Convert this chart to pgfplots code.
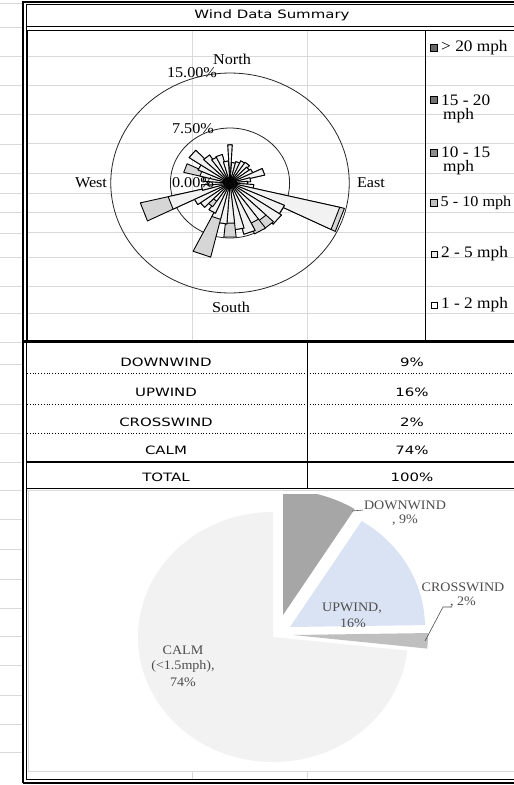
\documentclass[border=0pt]{standalone}
\usepackage{pgfplots}
\pgfplotsset{compat=1.18}
\usepackage{pgfplotstable}
\usepackage{fontspec}
\setmainfont{Liberation Serif}
\newfontfamily\msfont[FakeStretch=1.3]{DejaVu Sans}
\newfontfamily\tnr[FakeStretch=1.08]{Liberation Serif}
\definecolor{sheetgrid}{HTML}{D9D9D9}
\definecolor{rlight}{HTML}{F2F2F2}
\definecolor{rdark}{HTML}{D6D6D6}
\definecolor{pcalm}{HTML}{F2F2F2}
\definecolor{pdown}{HTML}{A6A6A6}
\definecolor{pup}{HTML}{DAE3F3}
\definecolor{pcross}{HTML}{BFBFBF}
\definecolor{plbl}{HTML}{4D4D4D}

% wind rose: bearing, end of 2-5 mph part, end of 5-10 mph part (percent), half width (deg)
\pgfplotstableread{
b l t w
0 5.2 5.2 3
10 2.8 2.8 6
20 3.0 3.0 6
30 3.3 3.3 6
40 3.4 3.4 6
50 3.0 3.0 6
60 3.2 3.2 6
70 4.5 4.5 6
80 2.6 2.6 6
90 2.2 2.2 6
100 3.0 3.0 6
110 14.2 14.8 6.5
120 7.5 7.5 6
130 7.8 7.8 6
140 6.3 7.6 6
150 6.1 7.6 6
160 7.2 7.2 6
170 6.4 6.4 6
180 5.5 7.4 6
190 5.6 5.6 6
200 5.1 10.4 6.5
210 4.5 4.5 6
220 3.0 3.9 6
230 4.6 4.6 6
240 5.0 5.0 6
250 8.0 11.6 6.5
260 3.6 3.6 6
270 2.8 2.8 6
280 3.4 3.4 6
290 3.9 6.0 6
300 4.4 4.4 6
310 6.2 6.2 6
320 4.6 4.6 6
330 3.9 3.9 6
340 4.0 4.0 6
350 3.0 3.0 6
}\rosedata

% pie: value, colour, explode offset (pt)
\pgfplotstableread{
v c ox oy
9 pdown 10 22
16 pup 17 10
2 pcross 20 2
74 pcalm 0 0
}\piedata

\newcommand\lbl{\tnr\fontsize{15}{17}\selectfont}
\newcommand\lgd{\tnr\fontsize{16}{18}\selectfont}
\newcommand\plb{\tnr\fontsize{13}{15}\selectfont\color{plbl}}
\newcommand\msf{\msfont\fontsize{11.5}{13}\selectfont}

\begin{document}
\begin{tikzpicture}[x=1pt,y=-1pt]
\useasboundingbox (0,0) rectangle (514,785);
\fill[white] (0,0) rectangle (514,785);
% sheet grid, left strip
\foreach \yy in {3,27,56,85,114,144,173,193,212,233,257,286,313,342,364,404,433,462,490,519,549,579,608,636,665,695,724,752}
  \draw[sheetgrid, line width=0.9pt] (0,\yy) -- (22,\yy);
% sheet grid, inside chart area
\foreach \yy in {56,85,114,143,173,193,212,232,257,286,313}
  \draw[sheetgrid, line width=0.9pt] (27,\yy) -- (514,\yy);
\foreach \xx in {192,307}{
  \draw[sheetgrid, line width=0.9pt] (\xx,30) -- (\xx,340);
  \draw[sheetgrid, line width=0.9pt] (\xx,771) -- (\xx,779);
}
% pie chart area border
\draw[sheetgrid, line width=0.8pt] (26.5,490.5) -- (514,490.5);
\draw[sheetgrid, line width=0.8pt] (28,490) -- (28,771) -- (514,771);

% ---------- wind rose ----------
\begin{axis}[at={(230pt,-183pt)}, anchor=origin, hide axis, scale only axis,
  width=254.4pt, height=234.6pt, xmin=-16, xmax=16, ymin=-16, ymax=16, clip=false]
\draw[black!85, line width=0.8pt] (axis cs:0,0) ellipse [x radius=15, y radius=15];
\draw[black!85, line width=0.8pt] (axis cs:0,0) ellipse [x radius=7.5, y radius=7.5];
\pgfplotsforeachungrouped \i in {0,...,35}{%
  \pgfplotstablegetelem{\i}{b}\of\rosedata \let\rb\pgfplotsretval
  \pgfplotstablegetelem{\i}{l}\of\rosedata \let\rlo\pgfplotsretval
  \pgfplotstablegetelem{\i}{t}\of\rosedata \let\rt\pgfplotsretval
  \pgfplotstablegetelem{\i}{w}\of\rosedata \let\rw\pgfplotsretval
  \pgfmathsetmacro\aA{90-\rb+\rw}%
  \pgfmathsetmacro\aB{90-\rb-\rw}%
  \edef\temp{\noexpand\addplot[draw=black, line width=0.9pt, line join=round, fill=rdark, data cs=polar] coordinates {(\aA,0) (\aA,\rt) (\aB,\rt) (\aB,0)} -- cycle;
  \noexpand\addplot[draw=black, line width=0.9pt, line join=round, fill=rlight, data cs=polar] coordinates {(\aA,0) (\aA,\rlo) (\aB,\rlo) (\aB,0)} -- cycle;}%
  \temp
}
\end{axis}

\node[inner sep=0] at (232,59) {\lbl North};
\node[inner sep=0] at (192,73) {\lbl 15.00\%};
\node[inner sep=0] at (193,129) {\lbl 7.50\%};
\node[inner sep=0] at (193,183) {\lbl 0.00\%};
\node[inner sep=0] at (91,183) {\lbl West};
\node[inner sep=0] at (371,183) {\lbl East};
\node[inner sep=0] at (231,307) {\lbl South};

% legend
\begin{scope}[line width=0.7pt]
\draw[fill=black!60] (430.5,44.5) rectangle (437.5,51.5);
\draw[fill=black!55] (430.5,96.5) rectangle (437.5,103.5);
\draw[fill=black!45] (430.5,149.5) rectangle (437.5,156.5);
\draw[fill=black!25] (430.5,199.5) rectangle (437.5,206.5);
\draw[fill=black!8] (431,251) rectangle (437,257);
\draw[fill=white] (431,302) rectangle (437,308);
\end{scope}
\node[inner sep=0, anchor=west] at (441,48) {\lgd > 20 mph};
\node[inner sep=0, anchor=west] at (441,100) {\lgd 15 - 20};
\node[inner sep=0, anchor=west] at (443,116) {\lgd mph};
\node[inner sep=0, anchor=west] at (441,152) {\lgd 10 - 15};
\node[inner sep=0, anchor=west] at (443,168) {\lgd mph};
\node[inner sep=0, anchor=west] at (440.5,203) {\tnr\fontsize{15}{17}\selectfont 5 - 10 mph};
\node[inner sep=0, anchor=west] at (441,254) {\lgd 2 - 5 mph};
\node[inner sep=0, anchor=west] at (441,305) {\lgd 1 - 2 mph};

% ---------- pie ----------
\begin{scope}
\clip (28,494) rectangle (514,770);
\begin{axis}[at={(273pt,-637pt)}, anchor=origin, hide axis, scale only axis,
  width=100pt, height=100pt, xmin=-1, xmax=1, ymin=-1, ymax=1, clip=false]
\xdef\cum{0}
\pgfplotsforeachungrouped \i in {0,...,3}{%
  \pgfplotstablegetelem{\i}{v}\of\piedata \let\pv\pgfplotsretval
  \pgfplotstablegetelem{\i}{c}\of\piedata \let\pc\pgfplotsretval
  \pgfplotstablegetelem{\i}{ox}\of\piedata \let\pox\pgfplotsretval
  \pgfplotstablegetelem{\i}{oy}\of\piedata \let\poy\pgfplotsretval
  \pgfmathsetmacro\aS{90-\cum/101*360}%
  \pgfmathsetmacro\aE{90-(\cum+\pv)/101*360}%
  \pgfmathsetmacro\newcum{\cum+\pv}\xdef\cum{\newcum}%
  \edef\temp{\noexpand\fill[\pc] ([shift={(\pox pt,\poy pt)}]axis cs:0,0) -- ++(\aS:135pt and 125pt) arc[start angle=\aS, end angle=\aE, x radius=135pt, y radius=125pt] -- cycle;}%
  \temp
}
\end{axis}
\end{scope}
% pie labels
\node[inner sep=0, align=center] at (405,505) {\plb DOWNWIND};
\node[inner sep=0] at (405,520) {\plb , 9\%};
\node[inner sep=0] at (352,608) {\plb UPWIND,};
\node[inner sep=0] at (353,623) {\plb 16\%};
\node[inner sep=0] at (463,587) {\plb CROSSWIND};
\node[inner sep=0] at (463,602) {\plb , 2\%};
\node[inner sep=0] at (183,650) {\plb CALM};
\node[inner sep=0] at (183,666) {\plb (<1.5mph),};
\node[inner sep=0] at (183,682) {\plb 74\%};
\draw[plbl, line width=0.6pt] (352,511) -- (363,510);
\draw[plbl, line width=0.6pt] (425,641) -- (443,607) -- (452,607);

% ---------- table ----------
\node[inner sep=0] at (272,15) {\msf Wind Data Summary};
\node[inner sep=0] at (166,362) {\msf DOWNWIND};
\node[inner sep=0] at (166,392) {\msf UPWIND};
\node[inner sep=0] at (166,422) {\msf CROSSWIND};
\node[inner sep=0] at (166,450) {\msf CALM};
\node[inner sep=0] at (166,477) {\msf TOTAL};
\node[inner sep=0] at (412,362) {\msf 9\%};
\node[inner sep=0] at (412,392) {\msf 16\%};
\node[inner sep=0] at (412,422) {\msf 2\%};
\node[inner sep=0] at (412,450) {\msf 74\%};
\node[inner sep=0] at (412,477) {\msf 100\%};

\draw[black, line width=0.8pt, dotted] (27,373) -- (514,373);
\draw[black, line width=0.8pt, dotted] (27,404) -- (514,404);
\draw[black, line width=0.8pt, dotted] (27,433) -- (514,433);
\draw[black, line width=0.9pt] (307,343) -- (307,488);
\draw[black, line width=2pt] (27,462) -- (514,462);
\draw[black, line width=0.9pt] (27,488) -- (514,488);
\draw[black, line width=3pt] (23,341.5) -- (514,341.5);

% frames
\draw[black, line width=1.2pt] (23,783) -- (23,2) -- (514,2);
\draw[black, line width=0.8pt] (26.5,779.5) -- (26.5,4.5) -- (514,4.5);
\draw[black, line width=1.2pt] (23,783) -- (514,783);
\draw[black, line width=0.8pt] (26.5,779.5) -- (514,779.5);
\draw[black, line width=1pt] (26.5,26.5) -- (514,26.5);
\draw[black, line width=1pt] (27.5,340) -- (27.5,30.5) -- (514,30.5);
\draw[black, line width=1pt] (425,30.5) -- (425,340);
\end{tikzpicture}
\end{document}
